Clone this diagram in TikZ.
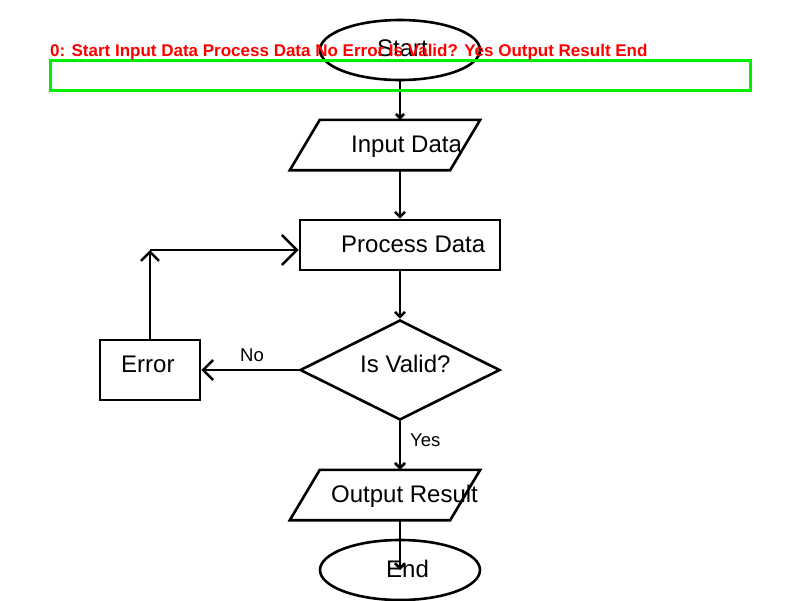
\documentclass[tikz,border=0pt]{standalone}
\usepackage{fontspec}
\setmainfont{Liberation Sans}
\usetikzlibrary{shapes.geometric,arrows.meta}

\definecolor{markred}{RGB}{255,0,0}
\definecolor{markgreen}{RGB}{0,240,0}

\tikzset{
  outline/.style={draw=black, line width=2.6pt, inner sep=0pt},
  terminal/.style={outline, ellipse, minimum width=160pt, minimum height=60pt},
  procbox/.style={outline, rectangle, minimum width=#1, minimum height=60pt},
  decision/.style={outline, diamond, aspect=2, minimum width=200pt, minimum height=100pt},
  iobox/.style={rectangle, inner sep=0pt, minimum width=160pt, minimum height=50pt},
  iooutline/.style={draw=black, line width=2.6pt, line join=miter},
  boxlabel/.style={anchor=base west, inner sep=0pt, font=\fontsize{24}{26}\selectfont},
  edgelabel/.style={anchor=base west, inner sep=0pt, font=\fontsize{18.5}{20}\selectfont},
  flow/.style={draw=black, line width=2.6pt,
    -{Straight Barb[length=#1, width=2*#1, line width=2.6pt]}},
  overlaytext/.style={anchor=base west, inner sep=0pt, text=markred,
    font=\bfseries\fontsize{17}{18}\selectfont},
}

\begin{document}
\begin{tikzpicture}[x=1pt, y=-1pt]
  \useasboundingbox[fill=white] (0,0) rectangle (800,600);

  % shapes
  \node[terminal] (start) at (400,50) {};
  \node[iobox] (input) at (400,145) {};
  \draw[iooutline] (input.north west) -- (input.north east)
    -- ([xshift=-30pt]input.south east) -- ([xshift=-30pt]input.south west) -- cycle;
  \node[outline, rectangle, minimum width=200pt, minimum height=50pt] (proc) at (400,245) {};
  \node[decision] (valid) at (400,370) {};
  \node[procbox=100pt] (error) at (150,370) {};
  \node[iobox] (output) at (400,495) {};
  \draw[iooutline] (output.north west) -- (output.north east)
    -- ([xshift=-30pt]output.south east) -- ([xshift=-30pt]output.south west) -- cycle;
  \node[terminal] (stop) at (400,570) {};
  \coordinate (loop) at (150,250);

  % labels
  \node[boxlabel] (tstart) at (377,56) {Start};
  \node[boxlabel] (tinput) at (351,152) {Input Data};
  \node[boxlabel] (tproc) at (341,252) {Process Data};
  \node[boxlabel] (tvalid) at (360,372) {Is Valid?};
  \node[boxlabel] (terror) at (121,372) {Error};
  \node[boxlabel] (toutput) at (331,502) {Output Result};
  \node[boxlabel] (tstop) at (386,577) {End};
  \node[edgelabel] (lno) at (240,361) {No};
  \node[edgelabel] (lyes) at (410,446) {Yes};

  % connectors
  \draw[flow=4pt] (start.south) -- (input.north);
  \draw[flow=5pt] (input.south) -- (proc.north);
  \draw[flow=5pt] (proc.south) -- (valid.north);
  \draw[flow=10pt] (valid.west) -- (error.east);
  \draw[flow=9pt] (error.north) -- (loop);
  \draw[flow=15pt] (loop) -- (loop -| proc.west);
  \draw[flow=5pt] (valid.south) -- (output.north);
  \draw[flow=5pt] (output.south) -- (stop.center);

  % annotation layer
  \node[draw=markgreen, line width=3pt, rectangle, inner sep=0pt,
    minimum width=700pt, minimum height=30pt] (band) at (400,75) {};
  \node[overlaytext] (caption) at (50,56)
    {0: Start Input Data Process Data No Error Is Valid? Yes Output Result End};
\end{tikzpicture}
\end{document}
